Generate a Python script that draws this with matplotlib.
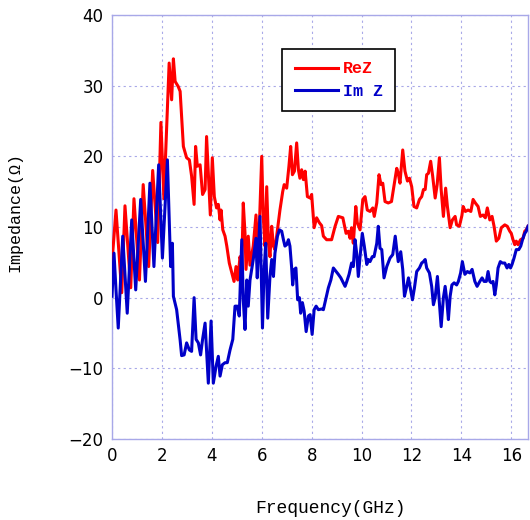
import matplotlib
matplotlib.use("Agg")
import matplotlib.pyplot as plt

# Data
freq_re = [0, 0.16, 0.39, 0.52, 0.75, 0.88, 1.1, 1.25, 1.47, 1.63, 1.83, 1.96, 2.08, 2.29, 2.39,
           2.46, 2.53, 2.65, 2.73, 2.86, 2.99, 3.1, 3.19, 3.29, 3.35, 3.42, 3.53, 3.63, 3.73, 3.79,
           3.86, 3.94, 4.02, 4.1, 4.19, 4.26, 4.33, 4.37, 4.44, 4.53, 4.6, 4.7, 4.8, 4.89, 4.97,
           5.04, 5.13, 5.2, 5.26, 5.33, 5.37, 5.46, 5.53, 5.66, 5.77, 5.82, 5.9, 6.0, 6.06, 6.13,
           6.2, 6.27, 6.33, 6.4, 6.47, 6.53, 6.63, 6.73, 6.84, 6.9, 7.0, 7.09, 7.16, 7.23, 7.31,
           7.4, 7.47, 7.53, 7.6, 7.67, 7.74, 7.83, 7.94, 8.0, 8.1, 8.2, 8.31, 8.4, 8.47, 8.6, 8.8,
           8.94, 9.07, 9.25, 9.38, 9.47, 9.54, 9.6, 9.67, 9.77, 9.83, 9.94, 10.05, 10.14, 10.23,
           10.34, 10.45, 10.51, 10.61, 10.7, 10.78, 10.85, 10.94, 11.07, 11.2, 11.41, 11.47, 11.54,
           11.65, 11.74, 11.84, 11.92, 12.01, 12.1, 12.21, 12.32, 12.41, 12.48, 12.55, 12.61, 12.68,
           12.77, 12.85, 12.95, 13.03, 13.12, 13.19, 13.28, 13.37, 13.44, 13.55, 13.64, 13.75,
           13.81, 13.92, 14.02, 14.07, 14.16, 14.27, 14.38, 14.47, 14.56, 14.67, 14.76, 14.87,
           14.96, 15.04, 15.14, 15.23, 15.31, 15.4, 15.5, 15.6, 15.74, 15.84, 15.94, 16.0, 16.07,
           16.14, 16.2, 16.27, 16.37, 16.47, 16.54, 16.6, 16.67]
re_z = [5.0, 12.4, 0.7, 13.0, 1.4, 14.0, 2.5, 16.0, 4.4, 18.0, 7.8, 24.8, 14.0, 33.2, 28.0,
        33.8, 30.6, 29.9, 29.2, 21.4, 19.8, 19.5, 17.2, 13.2, 21.4, 18.6, 18.8, 14.6, 15.3, 22.8,
        17.6, 11.7, 19.8, 14.3, 12.7, 13.2, 11.0, 12.4, 9.6, 8.7, 7.3, 4.9, 3.5, 2.3, 4.4,
        2.5, 5.8, 4.4, 13.4, 9.1, 4.0, 8.7, 4.6, 7.3, 11.7, 8.2, 9.6, 20.0, 11.5, 7.3,
        15.7, 7.7, 5.8, 10.1, 7.3, 6.8, 9.6, 12.4, 15.0, 16.0, 15.5, 18.6, 21.4, 17.4, 17.9,
        21.9, 18.1, 16.9, 18.1, 16.7, 17.9, 14.3, 14.1, 14.6, 9.9, 11.3, 10.6, 10.2, 8.7, 8.2, 8.2,
        10.1, 11.5, 11.3, 9.1, 9.4, 8.4, 9.9, 7.7, 12.9, 10.6, 9.6, 13.9, 14.3, 12.4,
        12.2, 12.7, 11.5, 13.4, 17.4, 16.0, 16.2, 13.6, 13.4, 13.6, 18.3, 17.6, 16.2,
        20.9, 17.9, 16.5, 16.9, 15.7, 12.9, 12.7, 13.9, 14.3, 15.3, 15.3, 17.4, 17.6,
        19.3, 17.2, 14.1, 16.0, 19.8, 15.3, 11.5, 15.5, 12.9, 9.9, 11.0, 11.5,
        10.3, 10.1, 11.6, 12.9, 12.2, 12.4, 12.2, 13.9, 13.4, 12.9, 11.5, 11.7,
        11.3, 12.7, 11.0, 11.5, 10.1, 8.0, 8.4, 9.9, 10.3, 10.1, 9.4, 9.1, 8.2,
        7.5, 8.0, 7.5, 8.2, 8.4, 9.4, 9.6, 10.1]

freq_im = [0, 0.08, 0.16, 0.25, 0.43, 0.61, 0.79, 0.95, 1.15, 1.34, 1.52, 1.68, 1.87, 2.02, 2.22,
           2.35, 2.42, 2.46, 2.59, 2.73, 2.79, 2.89, 2.99, 3.1, 3.19, 3.29, 3.37, 3.46, 3.55, 3.63,
           3.73, 3.79, 3.86, 3.97, 4.06, 4.17, 4.26, 4.33, 4.42, 4.53, 4.62, 4.73, 4.84, 4.93,
           5.02, 5.1, 5.2, 5.26, 5.33, 5.4, 5.46, 5.53, 5.66, 5.77, 5.82, 5.93, 6.03, 6.09, 6.16,
           6.24, 6.33, 6.4, 6.47, 6.53, 6.63, 6.71, 6.8, 6.87, 6.93, 7.0, 7.07, 7.13, 7.2, 7.24,
           7.31, 7.37, 7.44, 7.51, 7.56, 7.63, 7.7, 7.78, 7.87, 7.94, 8.02, 8.1, 8.18, 8.27, 8.4,
           8.47, 8.58, 8.67, 8.77, 8.87, 8.98, 9.07, 9.17, 9.27, 9.34, 9.41, 9.5, 9.6, 9.67, 9.74,
           9.81, 9.87, 9.94, 10.03, 10.11, 10.21, 10.27, 10.34, 10.43, 10.5, 10.61, 10.67, 10.74,
           10.81, 10.9, 11.01, 11.14, 11.25, 11.35, 11.41, 11.47, 11.57, 11.65, 11.72, 11.81,
           11.88, 11.98, 12.04, 12.12, 12.21, 12.32, 12.41, 12.48, 12.55, 12.61, 12.72, 12.81,
           12.88, 12.95, 13.04, 13.12, 13.19, 13.28, 13.35, 13.42, 13.48, 13.55, 13.62, 13.71,
           13.81, 13.88, 13.97, 14.04, 14.14, 14.24, 14.34, 14.43, 14.54, 14.63, 14.74, 14.83,
           14.91, 15.0, 15.07, 15.14, 15.2, 15.27, 15.34, 15.4, 15.47, 15.56, 15.64, 15.74, 15.83,
           15.9, 15.97, 16.03, 16.11, 16.2, 16.3, 16.38, 16.45, 16.54, 16.6, 16.67]
im_z = [0.2, 6.3, 1.1, -4.3, 8.7, -2.2, 11.0, 1.1, 13.9, 2.3, 16.2, 4.4, 18.8, 5.6, 19.5,
        4.4, 7.7, 0.2, -1.7, -6.0, -8.2, -8.1, -6.4, -7.4, -7.6, 0.0, -5.9, -6.4, -8.1, -5.9,
        -3.6, -7.4, -12.1, -3.3, -12.1, -9.7, -8.3, -11.1, -9.5, -9.2, -9.2, -7.4, -5.9, -1.2,
        -1.2, -2.6, 8.2, -0.3, -4.5, 2.5, -1.2, 2.5, 5.4, 8.4, 2.8, 11.5, -4.3, 3.5, 7.7,
        -2.9, 3.0, 5.4, 3.0, 6.3, 8.7, 9.6, 9.4, 8.2, 7.3, 7.5, 8.2, 7.3, 4.2, 1.8,
        4.0, 4.2, -0.3, 0.0, -2.2, -0.7, -1.9, -4.8, -2.6, -2.4, -5.2, -1.7, -1.2, -1.7, -1.6,
        -1.7, 0.0, 1.4, 2.5, 4.2, 3.7, 3.3, 2.8, 2.1, 1.6, 2.3, 3.3, 4.9, 4.4, 8.2,
        6.1, 3.0, 5.8, 9.1, 7.3, 4.7, 5.4, 5.1, 5.8, 5.8, 7.7, 10.1, 7.0,
        6.8, 2.8, 4.4, 5.6, 6.1, 8.7, 6.8, 5.1, 6.5, 4.0, 0.2, 1.6,
        2.8, 0.9, -0.3, 1.4, 3.7, 4.2, 4.9, 5.1, 5.4, 4.2, 3.5, 1.6,
        -1.0, 0.0, 3.0, -0.7, -4.1, 0.0, 1.6, -0.5, -3.1, 0.2, 1.8, 2.1,
        1.8, 2.3, 3.5, 5.1, 3.3, 3.7, 3.5, 4.0, 2.3, 1.6, 2.3, 2.8,
        2.3, 2.3, 3.7, 2.3, 2.1, 2.3, 0.4, 1.8, 4.2, 5.1, 4.9, 4.9, 4.2,
        4.7, 4.2, 4.7, 5.6, 6.8, 6.8, 7.3, 8.2, 9.1, 9.4, 10.1]

x_ticks = [0, 2, 4, 6, 8, 10, 12, 14, 16]
y_ticks = [-20, -10, 0, 10, 20, 30, 40]
series_labels = ["ReZ", "Im Z"]
series_colors = ["#ff0000", "#0000c8"]

fig = plt.figure(figsize=(5.3, 5.2), dpi=100)
ax = fig.add_axes([112 / 530, 1 - 439 / 520, 416 / 530, 424 / 520])

ax.plot(freq_re, re_z, color=series_colors[0], lw=2.2, label=series_labels[0], zorder=3)
ax.plot(freq_im, im_z, color=series_colors[1], lw=2.2, label=series_labels[1], zorder=4)

ax.set_xlim(0, 16.67)
ax.set_ylim(-20, 40)
ax.set_xticks(x_ticks)
ax.set_yticks(y_ticks)
ax.set_yticklabels([("\u2212" + str(-v)) if v < 0 else str(v) for v in y_ticks])
ax.tick_params(length=0, labelsize=12, pad=6)

grid_col = "#a8a8e8"
ax.grid(True, color=grid_col, linestyle=(0, (2, 3)), lw=0.8)
for s in ax.spines.values():
    s.set_color(grid_col)
    s.set_linewidth(1.0)

mono = "Liberation Mono"
ax.set_xlabel("Frequency(GHz)", fontsize=13, family=mono)
ax.xaxis.set_label_coords(0.526, -0.144)
ax.set_ylabel("Impedance(\u03a9)", fontsize=12, family=mono)
ax.yaxis.set_label_coords(-0.216, 0.535)

leg = ax.legend(loc="upper left", bbox_to_anchor=(0.409, 0.92), borderaxespad=0,
                prop={"family": mono, "size": 12, "weight": "bold"}, fancybox=False,
                framealpha=1, edgecolor="black", handlelength=2.6, handletextpad=0.3,
                labelspacing=0.45, borderpad=0.75)
leg.get_frame().set_linewidth(1.2)
for t, c in zip(leg.get_texts(), series_colors):
    t.set_color(c)

fig.savefig("out.png", dpi=100)
